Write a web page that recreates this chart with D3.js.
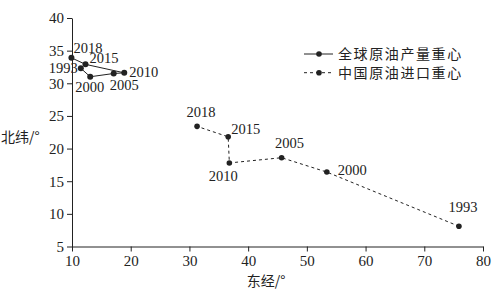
<!DOCTYPE html>
<html>
<head>
<meta charset="utf-8">
<script src="https://cdn.jsdelivr.net/npm/d3@7"></script>
<style>
  body { margin: 0; background: #fff; }
  svg { display: block; }
</style>
</head>
<body>
<svg id="chart" width="500" height="290"></svg>
<script>
// data (lon E, lat N)
const years = ["1993", "2000", "2005", "2010", "2015", "2018"];
const globalLon = [11.5, 13.1, 17.1, 18.9, 12.3, 9.9];
const globalLat = [32.3, 31.0, 31.5, 31.6, 32.9, 33.9];
const chinaLon = [75.9, 53.4, 45.7, 36.8, 36.6, 31.3];
const chinaLat = [8.1, 16.4, 18.6, 17.8, 21.8, 23.4];
const xTicks = [10, 20, 30, 40, 50, 60, 70, 80];
const yTicks = [5, 10, 15, 20, 25, 30, 35, 40];
const seriesNames = ["全球原油产量重心", "中国原油进口重心"];

// label placement for each year, [dx, dy, anchor]
const globalLabelPos = [
  [-3, 5, "end"], [-15, 15, "start"], [-4, 17, "start"],
  [5, 4, "start"], [4, -1, "start"], [2, -5, "start"]
];
const chinaLabelPos = [
  [4, -14, "middle"], [11, 3, "start"], [8, -10, "middle"],
  [-6, 18, "middle"], [3, -3, "start"], [4, -9, "middle"]
];

const svg = d3.select("#chart");
const ink = "#222";
const serif = "'Liberation Serif', 'DejaVu Serif', serif";
const cjk = "'Noto Sans CJK SC', sans-serif";

const x = d3.scaleLinear().domain([10, 80]).range([72, 483]);
const y = d3.scaleLinear().domain([5, 40]).range([246.5, 18]);

// axes
const xAxis = svg.append("g")
  .attr("transform", `translate(0,${y(5)})`)
  .call(d3.axisBottom(x).tickValues(xTicks).tickSize(5).tickPadding(4).tickSizeOuter(0));
const yAxis = svg.append("g")
  .attr("transform", `translate(${x(10)},0)`)
  .call(d3.axisLeft(y).tickValues(yTicks).tickSize(5).tickPadding(3).tickSizeOuter(0));

[xAxis, yAxis].forEach(g => {
  g.select(".domain").attr("stroke", ink);
  g.selectAll(".tick line").attr("stroke", ink);
  g.selectAll("text")
    .attr("fill", ink)
    .style("font-family", serif)
    .style("font-size", "15px");
});

svg.append("text")
  .attr("x", 266).attr("y", 286)
  .attr("text-anchor", "middle")
  .attr("fill", ink)
  .style("font-family", cjk).style("font-size", "14px")
  .text("东经/°");

svg.append("text")
  .attr("x", 1).attr("y", 142)
  .attr("fill", ink)
  .style("font-family", cjk).style("font-size", "14px")
  .text("北纬/°");

function drawSeries(lons, lats, labelPos, dash, r) {
  const pts = years.map((yr, i) => ({ yr, lon: lons[i], lat: lats[i], pos: labelPos[i] }));
  const line = d3.line().x(d => x(d.lon)).y(d => y(d.lat));

  svg.append("path")
    .datum(pts)
    .attr("d", line)
    .attr("fill", "none")
    .attr("stroke", ink)
    .attr("stroke-width", 1)
    .attr("stroke-dasharray", dash);

  svg.append("g").selectAll("circle")
    .data(pts)
    .join("circle")
    .attr("cx", d => x(d.lon))
    .attr("cy", d => y(d.lat))
    .attr("r", r)
    .attr("fill", ink);

  svg.append("g").selectAll("text")
    .data(pts)
    .join("text")
    .attr("x", d => x(d.lon) + d.pos[0])
    .attr("y", d => y(d.lat) + d.pos[1])
    .attr("text-anchor", d => d.pos[2])
    .attr("fill", ink)
    .style("font-family", serif)
    .style("font-size", "14.5px")
    .text(d => d.yr);
}

drawSeries(globalLon, globalLat, globalLabelPos, null, 3);
drawSeries(chinaLon, chinaLat, chinaLabelPos, "3,3", 2.8);

// legend
const legend = svg.append("g").selectAll("g")
  .data(seriesNames)
  .join("g")
  .attr("transform", (d, i) => `translate(304,${54 + i * 18.7})`);

legend.append("line")
  .attr("x1", 0).attr("x2", 29)
  .attr("stroke", ink)
  .attr("stroke-dasharray", (d, i) => i ? "3,3" : null);
legend.append("circle")
  .attr("cx", 15).attr("r", 2.8).attr("fill", ink);
legend.append("text")
  .attr("x", 34).attr("y", 5)
  .attr("fill", ink)
  .style("font-family", cjk).style("font-size", "14px")
  .style("letter-spacing", "1.6px")
  .text(d => d);
</script>
</body>
</html>
